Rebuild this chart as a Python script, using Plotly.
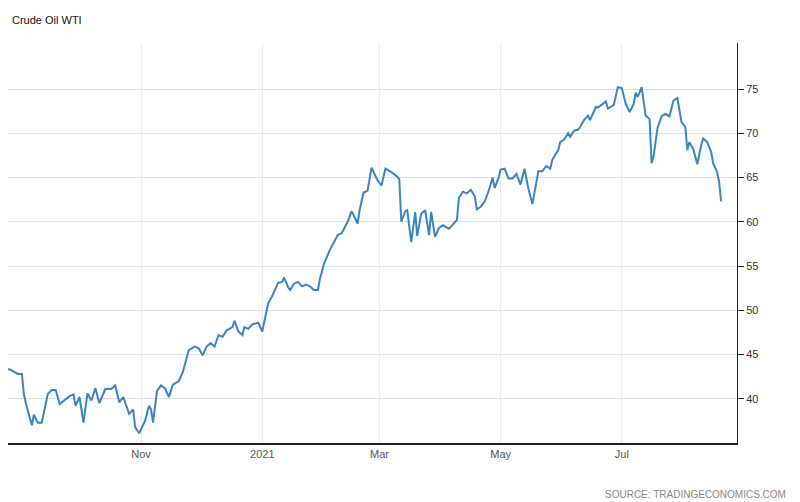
import plotly.graph_objects as go

# Crude Oil WTI, USD/bbl
dates = [
    "2020-08-22", "2020-08-24", "2020-08-27", "2020-08-31", "2020-09-02", "2020-09-03", "2020-09-04",
    "2020-09-07", "2020-09-08", "2020-09-10", "2020-09-12", "2020-09-13", "2020-09-15", "2020-09-17",
    "2020-09-19", "2020-09-21", "2020-09-23", "2020-09-26", "2020-09-28", "2020-09-29", "2020-10-01",
    "2020-10-03", "2020-10-05", "2020-10-07", "2020-10-09", "2020-10-11", "2020-10-14", "2020-10-17",
    "2020-10-19", "2020-10-21", "2020-10-23", "2020-10-26", "2020-10-28", "2020-10-29", "2020-10-31",
    "2020-11-03", "2020-11-05", "2020-11-06", "2020-11-07", "2020-11-09", "2020-11-11", "2020-11-13",
    "2020-11-15", "2020-11-17", "2020-11-20", "2020-11-22", "2020-11-25", "2020-11-28", "2020-11-30",
    "2020-12-02", "2020-12-04", "2020-12-06", "2020-12-08", "2020-12-10", "2020-12-12", "2020-12-14",
    "2020-12-17", "2020-12-18", "2020-12-20", "2020-12-22", "2020-12-23", "2020-12-25", "2020-12-27",
    "2020-12-30", "2021-01-01", "2021-01-03", "2021-01-04", "2021-01-06", "2021-01-09", "2021-01-11",
    "2021-01-12", "2021-01-14", "2021-01-15", "2021-01-17", "2021-01-19", "2021-01-21", "2021-01-23",
    "2021-01-25", "2021-01-27", "2021-01-29", "2021-01-30", "2021-02-01", "2021-02-04", "2021-02-08",
    "2021-02-10", "2021-02-13", "2021-02-15", "2021-02-18", "2021-02-19", "2021-02-21", "2021-02-23",
    "2021-02-25", "2021-02-28", "2021-03-02", "2021-03-04", "2021-03-07", "2021-03-10", "2021-03-11",
    "2021-03-12", "2021-03-14", "2021-03-15", "2021-03-17", "2021-03-19", "2021-03-20", "2021-03-22",
    "2021-03-24", "2021-03-25", "2021-03-26", "2021-03-27", "2021-03-29", "2021-03-31", "2021-04-02",
    "2021-04-05", "2021-04-07", "2021-04-09", "2021-04-10", "2021-04-12", "2021-04-14", "2021-04-16",
    "2021-04-18", "2021-04-19", "2021-04-21", "2021-04-23", "2021-04-25", "2021-04-27", "2021-04-28",
    "2021-04-30", "2021-05-01", "2021-05-03", "2021-05-05", "2021-05-07", "2021-05-09", "2021-05-11",
    "2021-05-13", "2021-05-15", "2021-05-17", "2021-05-20", "2021-05-22", "2021-05-24", "2021-05-26",
    "2021-05-27", "2021-05-30", "2021-05-31", "2021-06-02", "2021-06-04", "2021-06-05", "2021-06-07",
    "2021-06-09", "2021-06-10", "2021-06-12", "2021-06-14", "2021-06-15", "2021-06-18", "2021-06-19",
    "2021-06-21", "2021-06-23", "2021-06-24", "2021-06-27", "2021-06-29", "2021-07-01", "2021-07-03",
    "2021-07-05", "2021-07-07", "2021-07-08", "2021-07-09", "2021-07-11", "2021-07-13", "2021-07-15",
    "2021-07-16", "2021-07-17", "2021-07-19", "2021-07-21", "2021-07-23", "2021-07-25", "2021-07-27",
    "2021-07-29", "2021-07-31", "2021-08-02", "2021-08-03", "2021-08-04", "2021-08-06", "2021-08-08",
    "2021-08-10", "2021-08-11", "2021-08-13", "2021-08-15", "2021-08-16", "2021-08-18", "2021-08-19",
    "2021-08-20",
]
prices = [
    42.5, 43.4, 43.3, 42.8, 42.8, 40.5, 39.5,
    37.0, 38.2, 37.3, 37.3, 38.5, 40.5, 41.0,
    41.0, 39.4, 39.8, 40.3, 40.5, 39.2, 40.2,
    37.3, 40.6, 39.8, 41.2, 39.5, 41.1, 41.1,
    41.5, 39.6, 40.2, 38.3, 38.8, 36.8, 36.1,
    37.5, 39.2, 38.8, 37.3, 40.9, 41.5, 41.2,
    40.2, 41.6, 42.0, 43.0, 45.5, 45.9, 45.7,
    44.9, 45.9, 46.3, 45.9, 47.2, 47.0, 47.7,
    48.1, 48.8, 47.6, 47.2, 48.1, 47.9, 48.4,
    48.6, 47.6, 49.8, 50.8, 51.6, 53.1, 53.2,
    53.7, 52.6, 52.3, 53.0, 53.2, 52.7, 52.9,
    52.7, 52.3, 52.3, 53.5, 55.2, 56.8, 58.5,
    58.7, 60.0, 61.2, 59.8, 61.3, 63.3, 63.5,
    66.1, 64.7, 64.1, 66.0, 65.6, 65.1, 64.8,
    60.0, 61.2, 61.3, 57.7, 61.1, 58.4, 60.9,
    61.3, 60.1, 58.5, 61.1, 58.3, 59.3, 59.6,
    59.2, 59.7, 60.2, 62.7, 63.4, 63.2, 63.6,
    62.9, 61.4, 61.7, 62.3, 63.5, 65.0, 63.8,
    65.0, 65.9, 66.0, 64.9, 64.9, 65.4, 64.2,
    66.0, 63.7, 62.0, 65.7, 65.7, 66.3, 66.0,
    67.0, 68.1, 69.0, 69.3, 70.0, 69.6, 70.3,
    70.4, 70.7, 71.5, 72.0, 71.5, 73.0, 72.9,
    73.2, 73.6, 72.8, 73.2, 75.2, 75.1, 73.3,
    72.4, 73.3, 74.6, 74.1, 75.2, 72.0, 71.6,
    66.6, 67.4, 70.6, 71.9, 72.2, 71.9, 73.7,
    74.0, 71.3, 70.7, 68.1, 69.0, 68.2, 66.5,
    68.7, 69.4, 69.0, 67.9, 66.6, 65.6, 64.5,
    62.3,
]
x_ticks = ["2020-11-01", "2021-01-01", "2021-03-01", "2021-05-01", "2021-07-01"]
x_tick_labels = ["Nov", "2021", "Mar", "May", "Jul"]
y_ticks = [40, 45, 50, 55, 60, 65, 70, 75]

fig = go.Figure()
fig.add_trace(go.Scatter(
    x=dates, y=prices, mode="lines",
    line=dict(color="#3a85c6", width=2),
    hoverinfo="x+y",
))

# the page adds an 8px body margin, so the plot area is laid out from there
fig.update_layout(
    width=800, height=502,
    margin=dict(l=0, r=71, t=35, b=67, autoexpand=False),
    plot_bgcolor="white", paper_bgcolor="white",
    showlegend=False,
    font=dict(family="Liberation Sans, Arial", size=11, color="#333333"),
    annotations=[
        dict(text="Crude Oil WTI", x=0.003, y=1.0575, xref="paper", yref="paper",
             xanchor="left", yanchor="middle", showarrow=False,
             font=dict(size=11, color="#111111")),
        dict(text="SOURCE: TRADINGECONOMICS.COM", x=1.07, y=-0.13, xref="paper", yref="paper",
             xanchor="right", yanchor="middle", showarrow=False,
             font=dict(size=10, color="#888888")),
    ],
)

fig.update_xaxes(
    range=["2020-08-26", "2021-08-28"],
    tickvals=x_ticks, ticktext=x_tick_labels,
    showgrid=True, gridcolor="#ececec", gridwidth=1,
    showline=True, linecolor="#222222", linewidth=1.5,
    ticks="", tickfont=dict(size=11, color="#555555"),
)
fig.update_yaxes(
    range=[35, 80.2], side="right",
    tickvals=y_ticks,
    showgrid=True, gridcolor="#e2e2e2", gridwidth=1,
    showline=True, linecolor="#222222", linewidth=1,
    ticks="outside", ticklen=6, tickcolor="#222222",
    tickfont=dict(size=11, color="#333333"),
    zeroline=False,
)

fig.write_html("out.html")
